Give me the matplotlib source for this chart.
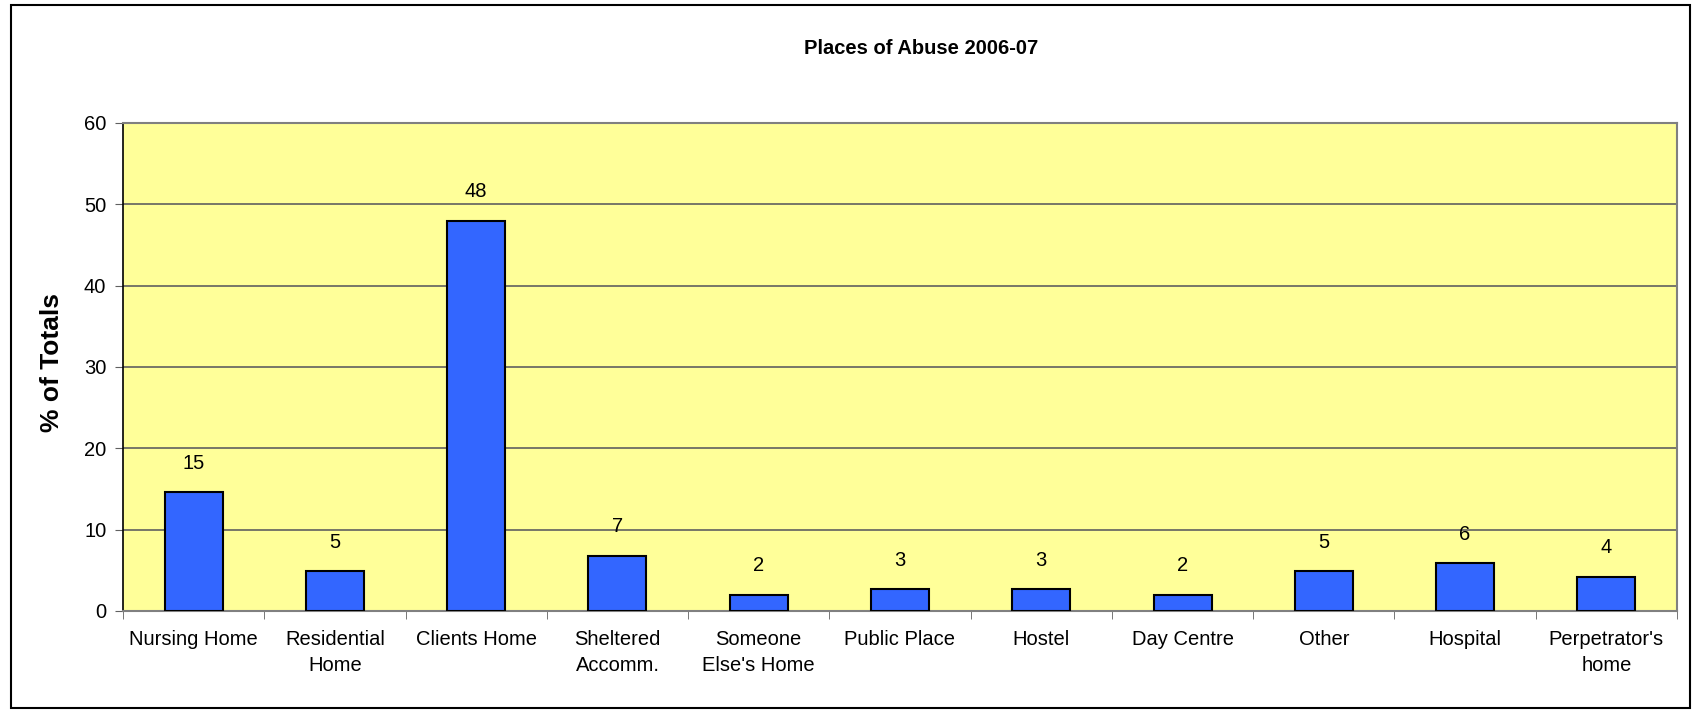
import numpy as np
import matplotlib
matplotlib.use("Agg")
import matplotlib.pyplot as plt
from matplotlib.patches import Rectangle

plt.rcParams['font.family'] = ['Liberation Sans', 'DejaVu Sans']

places = ["Nursing Home", "Residential\nHome", "Clients Home", "Sheltered\nAccomm.",
          "Someone\nElse's Home", "Public Place", "Hostel", "Day Centre",
          "Other", "Hospital", "Perpetrator's\nhome"]
percent = [14.6, 4.9, 48.0, 6.8, 2.0, 2.7, 2.7, 2.0, 4.9, 5.9, 4.2]
y_ticks = [0, 10, 20, 30, 40, 50, 60]

W, H = 1693, 710
fig = plt.figure(figsize=(W / 100, H / 100), dpi=100)
ax = fig.add_axes([123 / W, 1 - 611 / H, (1677 - 123) / W, (611 - 123) / H])
ax.set_facecolor('#FFFF99')

x = np.arange(len(places))
bars = ax.bar(x, percent, width=0.41, color='#3366FF', edgecolor='black', linewidth=1.5, zorder=3)
for b, v in zip(bars, percent):
    ax.annotate('%.0f' % v, (b.get_x() + b.get_width() / 2, v), xytext=(0, 14),
                textcoords='offset points', ha='center', va='bottom', fontsize=14.5)

ax.set_xlim(-0.5, len(places) - 0.5)
ax.set_ylim(0, 60)
ax.set_yticks(y_ticks)
ax.yaxis.grid(True, color='#606060', linewidth=1.2, zorder=0)
ax.tick_params(axis='y', labelsize=14.5, direction='out', length=6, color='#606060', pad=6)

ax.set_xticks(x)
ax.set_xticklabels(places, fontsize=14.5, linespacing=1.45)
ax.tick_params(axis='x', which='major', length=0, pad=14)
ax.set_xticks(np.arange(len(places) + 1) - 0.5, minor=True)
ax.tick_params(axis='x', which='minor', length=6, color='#606060', direction='out')

for s in ['top', 'right', 'bottom']:
    ax.spines[s].set_color('#808080')
    ax.spines[s].set_linewidth(1.5)
ax.spines['left'].set_color('black')
ax.spines['left'].set_linewidth(1.2)

ax.set_ylabel('% of Totals', fontsize=19, fontweight='bold')
ax.yaxis.set_label_coords(-0.038, 0.51)
fig.text(921 / W, 1 - 49 / H, 'Places of Abuse 2006-07',
         ha='center', va='center', fontsize=14.5, fontweight='bold')

fig.patches.append(Rectangle((11 / W, 2 / H), (1690 - 11) / W, (705 - 2) / H,
                             transform=fig.transFigure, fill=False,
                             edgecolor='black', linewidth=1.5))

fig.savefig('out.png', dpi=100)
